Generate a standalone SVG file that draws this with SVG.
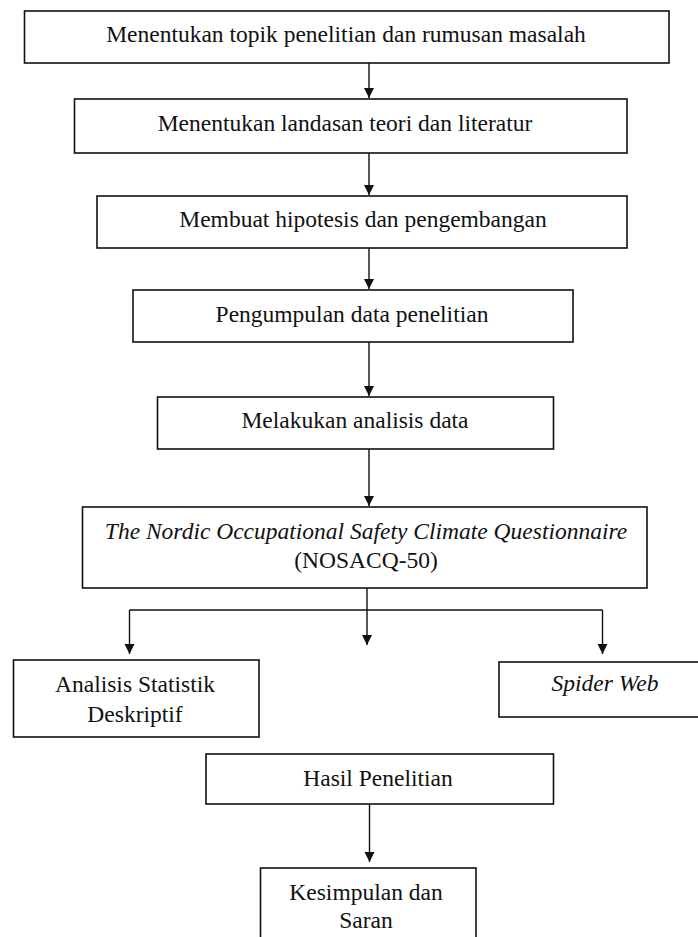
<svg xmlns="http://www.w3.org/2000/svg" width="698" height="937" viewBox="0 0 698 937">
<defs>
<style>
.box{fill:#fff;stroke:#111;stroke-width:1.6}
.t{font-family:'Liberation Serif','DejaVu Serif','Times New Roman',serif;font-size:23.5px;fill:#111;text-anchor:middle}
.i{font-style:italic}
.c{fill:none;stroke:#111;stroke-width:1.4}
</style>
<marker id="ah" markerUnits="userSpaceOnUse" markerWidth="10" markerHeight="12" viewBox="0 0 10 12" refX="10" refY="6" orient="auto">
<path d="M0,1 L10,6 L0,11 Z" fill="#111"/>
</marker>
</defs>
<rect width="698" height="937" fill="#fff"/>
<g id="connectors">
<path class="c" d="M369,63 V98" marker-end="url(#ah)"/>
<path class="c" d="M369,153 V195" marker-end="url(#ah)"/>
<path class="c" d="M369,248 V289" marker-end="url(#ah)"/>
<path class="c" d="M369,342 V396" marker-end="url(#ah)"/>
<path class="c" d="M369,449 V506" marker-end="url(#ah)"/>
<path class="c" d="M367,588 V610"/>
<path class="c" d="M129.5,610 H602.5"/>
<path class="c" d="M367,610 V645" marker-end="url(#ah)"/>
<path class="c" d="M129.5,610 V654" marker-end="url(#ah)"/>
<path class="c" d="M602.5,610 V654" marker-end="url(#ah)"/>
<path class="c" d="M369.5,804 V862" marker-end="url(#ah)"/>
</g>
<g id="n1"><rect class="box" x="24.5" y="11" width="644.5" height="52"/><text class="t" font-family="Liberation Serif, serif" x="346" y="42">Menentukan topik penelitian dan rumusan masalah</text></g>
<g id="n2"><rect class="box" x="74.5" y="99" width="552.5" height="54"/><text class="t" font-family="Liberation Serif, serif" x="345" y="131">Menentukan landasan teori dan literatur</text></g>
<g id="n3"><rect class="box" x="97" y="196" width="530" height="52"/><text class="t" font-family="Liberation Serif, serif" x="363" y="227">Membuat hipotesis dan pengembangan</text></g>
<g id="n4"><rect class="box" x="133" y="290" width="440" height="52"/><text class="t" font-family="Liberation Serif, serif" x="352" y="322">Pengumpulan data penelitian</text></g>
<g id="n5"><rect class="box" x="157.5" y="397" width="396" height="52"/><text class="t" font-family="Liberation Serif, serif" x="355" y="428">Melakukan analisis data</text></g>
<g id="n6"><rect class="box" x="82.5" y="507" width="564.5" height="81"/><text class="t i" font-family="Liberation Serif, serif" x="366" y="539">The Nordic Occupational Safety Climate Questionnaire</text><text class="t" font-family="Liberation Serif, serif" x="366" y="568">(NOSACQ-50)</text></g>
<g id="n7"><rect class="box" x="13.5" y="660" width="245.5" height="77"/><text class="t" font-family="Liberation Serif, serif" x="135" y="692">Analisis Statistik</text><text class="t" font-family="Liberation Serif, serif" x="135" y="722">Deskriptif</text></g>
<g id="n8"><rect class="box" x="499" y="662" width="210" height="55"/><text class="t i" font-family="Liberation Serif, serif" x="605" y="691">Spider Web</text></g>
<g id="n9"><rect class="box" x="206" y="754" width="347.5" height="50"/><text class="t" font-family="Liberation Serif, serif" x="378" y="786">Hasil Penelitian</text></g>
<g id="n10"><rect class="box" x="260.5" y="868" width="215.5" height="80"/><text class="t" font-family="Liberation Serif, serif" x="366" y="900">Kesimpulan dan</text><text class="t" font-family="Liberation Serif, serif" x="366" y="928">Saran</text></g>
</svg>
